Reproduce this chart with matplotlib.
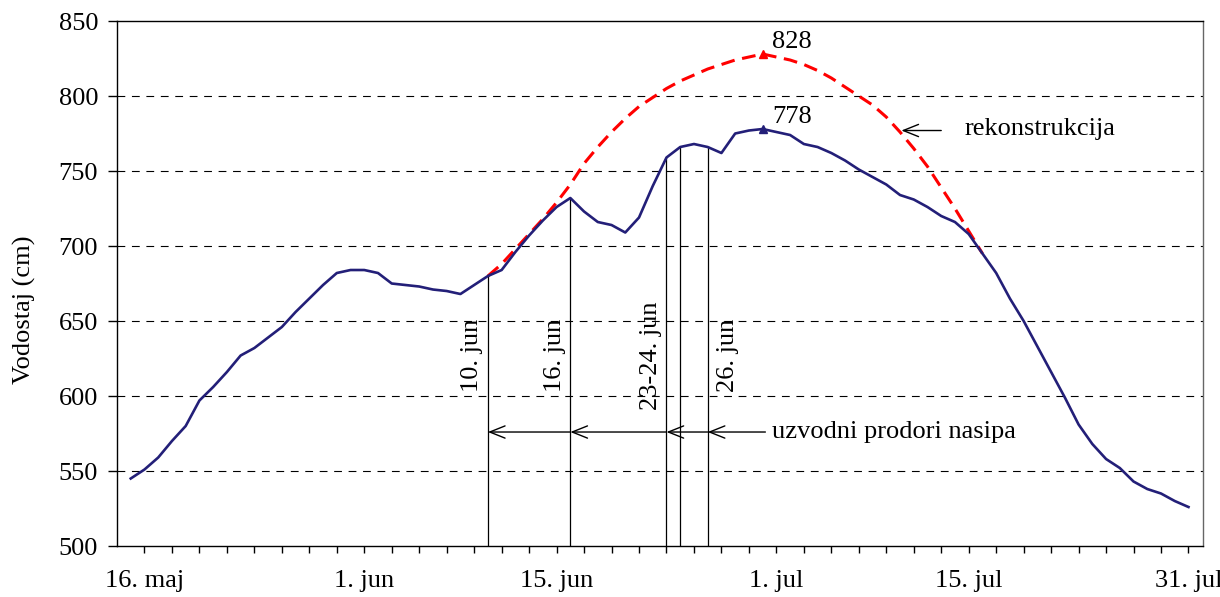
import matplotlib
matplotlib.use("Agg")
import matplotlib.pyplot as plt

plt.rcParams['font.family'] = ['Liberation Serif', 'DejaVu Serif']

# day index: 0 = 15. maj, 77 = 31. jul
days = list(range(78))

# measured water level (cm)
vodostaj = [545, 551, 559, 570, 580, 597, 606, 616, 627, 632,
            639, 646, 656, 665, 674, 682, 684, 684, 682, 675,
            674, 673, 671, 670, 668, 674, 680, 684, 696, 707,
            717, 726, 732, 723, 716, 714, 709, 719, 740, 759,
            766, 768, 766, 762, 775, 777, 778, 776, 774, 768,
            766, 762, 757, 751, 746, 741, 734, 731, 726, 720,
            716, 708, 695, 682, 665, 650, 633, 616, 599, 581,
            568, 558, 552, 543, 538, 535, 530, 526]

# reconstructed level, 10. jun (day 26) to 16. jul (day 62)
rek_days = list(range(26, 63))
rekonstrukcija = [680, 688, 698, 708, 718, 729, 741, 755, 766, 776,
                  785, 793, 799, 805, 810, 814, 818, 821, 824, 826,
                  828, 826, 824, 821, 817, 812, 806, 800, 794, 786,
                  776, 765, 753, 739, 725, 710, 695]

peak_day = 46

# upstream levee breaches
breach_days = [26, 32, 39, 40, 42]
breach_labels = [(26, "10. jun", 'right'), (32, "16. jun", 'right'),
                 (39, "23-24. jun", 'right'), (42, "26. jun", 'left')]

tick_days = [1, 17, 31, 47, 61, 77]
tick_labels = ["16. maj", "1. jun", "15. jun", "1. jul", "15. jul", "31. jul"]

blue = '#231F78'
fs = 19

fig = plt.figure(figsize=(12.2, 5.97), dpi=100)
ax = fig.add_axes([0.0959, 0.0854, 0.8901, 0.8794])

# grid
for y in [550, 600, 650, 700, 750, 800]:
    ax.axhline(y, color='black', lw=0.8, ls=(0, (7, 6)), zorder=1)

# breach vertical lines
for d in breach_days:
    ax.plot([d, d], [500, vodostaj[d]], color='black', lw=0.9, zorder=2)

ax.plot(rek_days, rekonstrukcija, color='#FF0000', lw=2.2, ls=(0, (4.5, 2.5)), zorder=3)
ax.plot(days, vodostaj, color=blue, lw=1.9, zorder=4)

ax.plot([peak_day], [vodostaj[peak_day]], marker='^', color=blue, ms=6, zorder=5)
ax.plot([peak_day], [rekonstrukcija[peak_day - 26]], marker='^', color='#FF0000', ms=6, zorder=5)

ax.annotate("778", (peak_day, vodostaj[peak_day]), xytext=(7, 9), textcoords='offset points',
            ha='left', va='center', fontsize=fs)
ax.annotate("828", (peak_day, rekonstrukcija[peak_day - 26]), xytext=(7, 9), textcoords='offset points',
            ha='left', va='center', fontsize=fs)

# breach labels
for d, lab, ha in breach_labels:
    dx = -0.35 if ha == 'right' else 0.7
    ax.text(d + dx, 627, lab, rotation=90, ha=ha, va='center', fontsize=fs)

# arrows for breaches
arrow_y = 576
arrow_pts = [46.2, 42, 39, 32, 26]
arrow_kw = dict(arrowstyle='->,head_length=0.55,head_width=0.22', color='black', lw=1.0,
                shrinkA=0, shrinkB=0, mutation_scale=20)
for a, b in zip(arrow_pts[:-1], arrow_pts[1:]):
    ax.annotate("", xy=(b, arrow_y), xytext=(a, arrow_y), arrowprops=arrow_kw)
ax.text(46.7, arrow_y, "uzvodni prodori nasipa", ha='left', va='center', fontsize=fs)

# reconstruction label
ax.annotate("", xy=(56.1, 777), xytext=(59.0, 777), arrowprops=arrow_kw)
ax.text(60.7, 778, "rekonstrukcija", ha='left', va='center', fontsize=fs)

ax.set_xlim(-1, 78.05)
ax.set_ylim(500, 850)
ax.set_yticks(range(500, 851, 50))
xt = list(range(1, 78, 2))
ax.set_xticks(xt)
ax.set_xticklabels([tick_labels[tick_days.index(d)] if d in tick_days else "" for d in xt])
ax.tick_params(axis='x', length=5, width=1, direction='out', pad=12, labelsize=fs)
ax.tick_params(axis='y', length=6.5, width=1, direction='out', labelsize=fs, pad=7)
fig.text(24 / 1220, 0.481, "Vodostaj (cm)", rotation=90, ha='center', va='center', fontsize=fs)

for s in ax.spines.values():
    s.set_linewidth(1.0)
ax.spines['right'].set_color('#666666')

fig.savefig("out.png", dpi=100)
